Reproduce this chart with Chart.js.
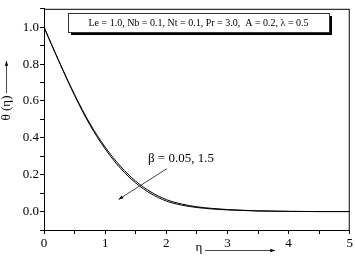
<!DOCTYPE html>
<html>
<head>
<meta charset="utf-8">
<script src="https://cdn.jsdelivr.net/npm/chart.js@4/dist/chart.umd.min.js"></script>
<style>
  html, body { margin: 0; padding: 0; background: #fff; }
  #wrap { width: 355px; height: 265px; }
</style>
</head>
<body>
<div id="wrap"><canvas id="c" width="355" height="265"></canvas></div>
<script>
const eta = [0, 0.25, 0.5, 0.75, 1, 1.25, 1.5, 1.75, 2, 2.25, 2.5, 2.75, 3, 3.5, 4, 4.5, 5]
const thetaBeta005 = [1.0, 0.81, 0.63, 0.47, 0.34, 0.235, 0.155, 0.097, 0.057, 0.035, 0.022, 0.014, 0.009, 0.003, 0.001, 0, 0]
const thetaBeta15 = [1.0, 0.812, 0.635, 0.478, 0.35, 0.246, 0.165, 0.106, 0.065, 0.041, 0.026, 0.017, 0.011, 0.004, 0.001, 0, 0]
const xTicks = [0, 1, 2, 3, 4, 5]
const yTicks = [0.0, 0.2, 0.4, 0.6, 0.8, 1.0]
const legendText = 'Le = 1.0, Nb = 0.1, Nt = 0.1, Pr = 3.0,  A = 0.2, \u03bb = 0.5'
const betaLabel = '\u03b2 = 0.05, 1.5'
const xTitle = '\u03b7'
const yTitle = '\u03b8 (\u03b7)'

const serif = "'Liberation Serif', 'DejaVu Serif', serif"

function arrow(ctx, x1, y1, x2, y2, head) {
    ctx.beginPath()
    ctx.moveTo(x1, y1)
    ctx.lineTo(x2, y2)
    ctx.stroke()
    const a = Math.atan2(y2 - y1, x2 - x1)
    ctx.beginPath()
    ctx.moveTo(x2, y2)
    ctx.lineTo(x2 - head * Math.cos(a - 0.35), y2 - head * Math.sin(a - 0.35))
    ctx.lineTo(x2 - head * Math.cos(a + 0.35), y2 - head * Math.sin(a + 0.35))
    ctx.closePath()
    ctx.fill()
}

const extras = {
    id: 'extras',
    afterDraw(chart) {
        const { ctx, chartArea: ca, scales } = chart
        ctx.save()
        ctx.strokeStyle = '#000'
        ctx.fillStyle = '#000'
        ctx.lineWidth = 1
        // frame
        ctx.strokeRect(ca.left + 0.5, ca.top + 0.5, ca.right - ca.left - 1, ca.bottom - ca.top)

        // parameter box with shadow
        const bx = ca.left + 24, by = 13, bw = 261, bh = 19
        ctx.fillRect(bx + 3, by + 3, bw, bh)
        ctx.fillStyle = '#fff'
        ctx.fillRect(bx, by, bw, bh)
        ctx.strokeStyle = '#333'
        ctx.strokeRect(bx + 0.5, by + 0.5, bw, bh)
        ctx.fillStyle = '#000'
        ctx.font = '10px ' + serif
        ctx.textAlign = 'center'
        ctx.textBaseline = 'middle'
        ctx.fillText(legendText, bx + bw / 2, by + bh / 2 + 1)

        // beta annotation and arrow
        const xs = scales.x, ys = scales.y
        ctx.font = '13px ' + serif
        ctx.textAlign = 'left'
        ctx.fillText(betaLabel, xs.getPixelForValue(1.7), ys.getPixelForValue(0.29))
        ctx.lineWidth = 0.9
        arrow(ctx, xs.getPixelForValue(2.01), ys.getPixelForValue(0.233),
              xs.getPixelForValue(1.22), ys.getPixelForValue(0.066), 5)

        // axis titles with arrows
        ctx.font = '13px ' + serif
        ctx.textAlign = 'center'
        ctx.fillText(xTitle, 199, 248)
        arrow(ctx, 205, 250.5, 275, 250.5, 5)

        ctx.save()
        ctx.translate(7, 108)
        ctx.rotate(-Math.PI / 2)
        ctx.fillText(yTitle, 0, 0)
        ctx.restore()
        arrow(ctx, 6.5, 93, 6.5, 61, 5)
        ctx.restore()
    }
}

new Chart(document.getElementById('c'), {
    type: 'line',
    plugins: [extras],
    data: {
        datasets: [{
            label: '\u03b2 = 0.05',
            data: eta.map((x, i) => ({ x: x, y: thetaBeta005[i] })),
            borderColor: '#000',
            borderWidth: 1,
            pointRadius: 0,
            fill: false,
            cubicInterpolationMode: 'monotone'
        }, {
            label: '\u03b2 = 1.5',
            data: eta.map((x, i) => ({ x: x, y: thetaBeta15[i] })),
            borderColor: '#000',
            borderWidth: 1,
            pointRadius: 0,
            fill: false,
            cubicInterpolationMode: 'monotone'
        }]
    },
    options: {
        responsive: false,
        animation: false,
        layout: { autoPadding: false, padding: { top: 1, right: 3, left: 0, bottom: 0 } },
        plugins: { legend: { display: false }, tooltip: { enabled: false } },
        scales: {
            x: {
                type: 'linear',
                min: 0,
                max: 5,
                afterFit: s => { s.height = 35 },
                grid: { drawOnChartArea: false, drawTicks: true, tickLength: 4, color: '#000' },
                border: { color: '#000', width: 1 },
                ticks: {
                    stepSize: 0.5,
                    padding: 2,
                    maxRotation: 0,
                    autoSkip: false,
                    color: '#000',
                    font: { family: serif, size: 13 },
                    callback: v => xTicks.includes(v) ? String(v) : ''
                }
            },
            y: {
                min: -0.1,
                max: 1.1,
                afterFit: s => { s.width = 44 },
                grid: { drawOnChartArea: false, drawTicks: true, tickLength: 4, color: '#000' },
                border: { color: '#000', width: 1 },
                ticks: {
                    stepSize: 0.1,
                    padding: 1,
                    autoSkip: false,
                    color: '#000',
                    font: { family: serif, size: 13 },
                    callback: v => {
                        const t = yTicks.find(k => Math.abs(k - v) < 1e-6)
                        return t === undefined ? '' : t.toFixed(1)
                    }
                }
            }
        }
    }
})
</script>
</body>
</html>
